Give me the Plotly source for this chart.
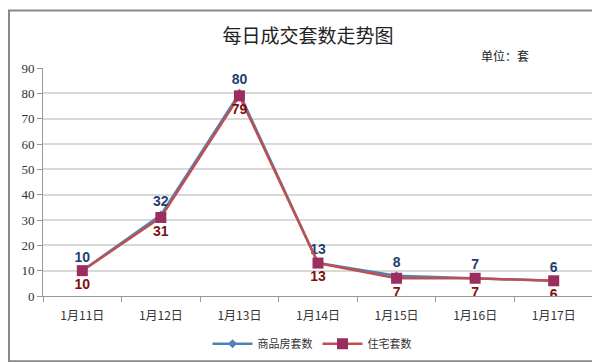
import plotly.graph_objects as go

categories = ["1月11日", "1月12日", "1月13日", "1月14日", "1月15日", "1月16日", "1月17日"]
commercial = [10, 32, 80, 13, 8, 7, 6]
residential = [10, 31, 79, 13, 7, 7, 6]
y_ticks = [0, 10, 20, 30, 40, 50, 60, 70, 80, 90]

W, H = 600, 362
L, R, T, B = 35, 15, 60, 68
pw, ph = W - L - R, H - T - B

fig = go.Figure()
fig.add_trace(go.Scatter(
    x=categories, y=commercial, name="商品房套数", mode="lines+markers+text",
    line=dict(color="#4F81BD", width=2.5),
    marker=dict(symbol="diamond", size=7, color="#4F81BD"),
    text=[str(v) for v in commercial], textposition="top center",
    textfont=dict(family="Liberation Sans, Arial", size=14, color="#1F3F6F", weight="bold"),
))
fig.add_trace(go.Scatter(
    x=categories, y=residential, name="住宅套数", mode="lines+markers+text",
    line=dict(color="#C0504D", width=2.5),
    marker=dict(symbol="square", size=11, color="#9B2D5F"),
    text=[str(v) for v in residential], textposition="bottom center",
    textfont=dict(family="Liberation Sans, Arial", size=14, color="#7F1010", weight="bold"),
))

fig.update_layout(
    width=W, height=H,
    margin=dict(l=L, r=R, t=T, b=B),
    paper_bgcolor="white", plot_bgcolor="white",
    font=dict(family="Noto Sans CJK SC", color="#333"),
    title=dict(text="每日成交套数走势图", x=0.5, xanchor="center", y=1 - 28 / H, yanchor="middle",
               font=dict(family="Noto Sans CJK SC", size=19, color="#222")),
    showlegend=True,
    legend=dict(orientation="h", x=(304 - L) / pw, xanchor="center", y=-(343 - (H - B)) / ph,
                yanchor="middle", font=dict(family="Noto Sans CJK SC", size=11, color="#333"),
                bgcolor="rgba(0,0,0,0)", itemwidth=40),
    xaxis=dict(type="category", range=[-0.5, 6.5], tickson="boundaries", ticks="outside",
               ticklen=5, tickcolor="#999", showline=True, linecolor="#999", linewidth=1,
               showgrid=False, ticklabelstandoff=9,
               tickfont=dict(family="Noto Sans CJK SC", size=12, color="#333")),
    yaxis=dict(range=[0, 90], tickvals=y_ticks, ticks="outside", ticklen=5, tickcolor="#999",
               showline=True, linecolor="#999", linewidth=1, showgrid=True, gridcolor="#D9D9D9",
               gridwidth=1.5, zeroline=False,
               tickfont=dict(family="Liberation Serif", size=13, color="#333")),
    annotations=[dict(text="单位：套", x=(497 - L) / pw, y=1 + (T - 47) / ph, xref="paper", yref="paper",
                      xanchor="center", yanchor="middle", showarrow=False,
                      font=dict(family="Noto Sans CJK SC", size=12, color="#222"))],
    shapes=[dict(type="rect", xref="paper", yref="paper",
                 x0=-(L - 1) / pw, x1=1 + (R - 1) / pw, y0=-(B - 1) / ph, y1=1 + (T - 1) / ph,
                 line=dict(color="#888", width=2), layer="below")],
)

fig.write_html("out.html")
